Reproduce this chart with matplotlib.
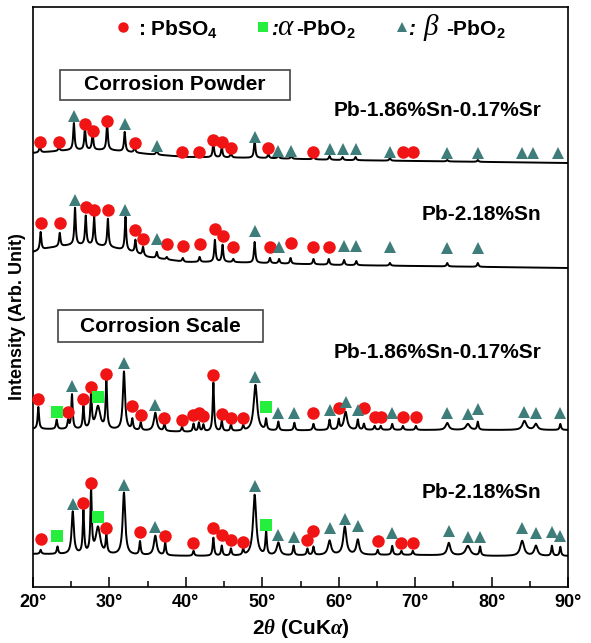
"""XRD patterns of corrosion powder / corrosion scale on Pb-Sn(-Sr) alloys."""

import matplotlib

matplotlib.use("Agg")
import matplotlib.pyplot as plt  # noqa: E402
import numpy as np  # noqa: E402
from matplotlib.lines import Line2D  # noqa: E402
from matplotlib.patches import Rectangle  # noqa: E402

plt.rcParams["font.family"] = ["Liberation Sans", "DejaVu Sans"]
plt.rcParams["font.weight"] = "bold"
plt.rcParams["mathtext.fontset"] = "custom"
plt.rcParams["mathtext.rm"] = "Liberation Sans:bold"
plt.rcParams["mathtext.bf"] = "Liberation Sans:bold"
plt.rcParams["mathtext.it"] = "Liberation Serif:italic"

# Values, stored as "depth below the top" of a 587-unit
# intensity scale (bigger number = lower on the chart); converted below.
TOP = 587

# --- Corrosion powder, Pb-1.86%Sn-0.17%Sr -------------------------------
p1_base_x = [20, 25, 30, 35, 40, 50, 60, 70, 80, 90]
p1_base_d = [153, 150, 150, 154, 157, 158, 160, 161, 162, 163]
p1_pk_pos = [20.9, 23.4, 25.35, 26.8, 27.8, 29.7, 32.0, 33.3, 36.2, 39.5,
             41.7, 43.6, 44.7, 45.9, 49.0, 50.8, 52.1, 53.8, 56.7, 58.8,
             60.5, 62.2, 66.7, 74.2, 78.2]
p1_pk_d = [146, 147, 123, 128, 133, 123, 132, 147, 150, 154,
           154, 143, 147, 153, 140, 154, 155, 156, 156, 156,
           157, 157, 158, 160, 160]
p1_so4_x = [20.9, 23.4, 26.8, 27.8, 29.7, 33.3, 39.5, 41.7, 43.6, 44.7,
            45.9, 50.8, 56.7, 68.4, 69.7]
p1_so4_d = [142, 142, 124, 131, 121, 143, 152, 152, 140, 142,
            148, 148, 152, 152, 152]
p1_beta_x = [25.35, 32.0, 36.2, 49.0, 52.1, 53.8, 58.8, 60.5, 62.2, 66.7,
             74.2, 78.2, 84.0, 85.4, 88.7]
p1_beta_d = [116, 124, 146, 137, 151, 151, 149, 149, 149, 152,
             153, 153, 153, 153, 153]

# --- Corrosion powder, Pb-2.18%Sn ---------------------------------------
p2_base_x = [20, 22, 25, 28, 30, 33, 35, 38, 40, 45, 50, 60, 70, 80, 90]
p2_base_d = [252, 248, 245, 245, 247, 252, 257, 260, 262, 262, 263, 265,
             266, 267, 268]
p2_pk_pos = [21.0, 23.5, 25.5, 26.9, 28.0, 29.8, 32.1, 33.4, 34.4, 36.2,
             37.5, 39.6, 41.8, 43.8, 44.8, 46.2, 49.0, 51.0, 52.2, 53.7,
             56.7, 58.7, 60.7, 62.3, 66.7, 74.2, 78.2]
p2_pk_d = [232, 233, 208, 216, 217, 219, 217, 240, 247, 252,
           257, 258, 257, 240, 245, 259, 242, 258, 259, 258,
           259, 259, 260, 261, 263, 263, 263]
p2_so4_x = [21.0, 23.5, 26.9, 28.0, 29.8, 33.4, 34.4, 37.5, 39.6, 41.8,
            43.8, 44.8, 46.2, 51.0, 53.7, 56.7, 58.7]
p2_so4_d = [223, 223, 207, 210, 210, 230, 239, 244, 246, 244,
            229, 236, 247, 247, 243, 247, 247]
p2_beta_x = [25.5, 32.1, 36.2, 49.0, 52.2, 60.7, 62.3, 66.7, 74.2, 78.2]
p2_beta_d = [200, 210, 239, 231, 247, 246, 246, 247, 248, 248]

# --- Corrosion scale, Pb-1.86%Sn-0.17%Sr --------------------------------
s1_base_x = [20, 30, 35, 40, 50, 60, 70, 80, 90]
s1_base_d = [429, 430, 431, 432, 431, 430, 430, 430, 430]
s1_pk_pos = [20.7, 23.1, 24.6, 25.1, 26.6, 27.6, 28.5, 29.6, 31.9, 33.0,
             34.1, 36.0, 37.2, 39.5, 41.0, 41.7, 42.3, 43.6, 44.7, 45.9,
             47.5, 49.1, 50.5, 52.1, 54.2, 56.7, 58.8, 60.0, 60.9, 62.5,
             63.3, 64.7, 65.5, 67.0, 68.4, 70.1, 74.2, 76.9, 78.2, 84.3,
             85.8, 89.0]
s1_pk_d = [407, 420, 421, 395, 407, 393, 407, 380, 372, 420,
           423, 413, 424, 427, 424, 423, 425, 383, 421, 425,
           426, 385, 420, 422, 423, 424, 420, 420, 412, 420,
           424, 426, 426, 424, 426, 426, 423, 424, 422, 421,
           424, 424]
s1_broad = {28.5: 0.7, 31.9: 0.35, 36.0: 0.45, 49.1: 0.55, 60.9: 0.5,
            74.2: 0.5, 76.9: 0.6, 84.3: 0.6, 85.8: 0.5}
s1_so4_x = [20.7, 24.6, 26.6, 27.6, 29.6, 33.0, 34.1, 37.2, 39.5, 41.0,
            41.7, 42.3, 43.6, 44.7, 45.9, 47.5, 56.7, 60.0, 63.3, 64.7,
            65.5, 68.4, 70.1]
s1_so4_d = [399, 412, 399, 387, 374, 406, 415, 418, 420, 415,
            413, 416, 375, 414, 418, 418, 413, 408, 408, 417,
            417, 417, 417]
s1_alpha_x = [23.1, 28.5, 50.5]
s1_alpha_d = [412, 397, 407]
s1_beta_x = [25.1, 31.9, 36.0, 49.1, 52.1, 54.2, 58.8, 60.9, 62.5, 67.0,
             74.2, 76.9, 78.2, 84.3, 85.8, 89.0]
s1_beta_d = [386, 363, 405, 377, 413, 413, 410, 402, 410, 413,
             413, 414, 409, 412, 413, 413]

# --- Corrosion scale, Pb-2.18%Sn ----------------------------------------
s2_base_x = [20, 30, 40, 50, 60, 70, 80, 90]
s2_base_d = [554, 555, 556, 556, 555, 555, 556, 556]
s2_pk_pos = [21.0, 23.2, 25.2, 26.6, 27.6, 28.5, 29.6, 31.9, 34.0, 36.0,
             37.3, 41.0, 43.6, 44.7, 45.9, 47.5, 49.0, 50.5, 52.1, 54.1,
             55.9, 56.7, 58.8, 60.8, 62.5, 65.1, 67.0, 68.2, 69.7, 74.4,
             76.9, 78.5, 84.0, 85.8, 87.9, 89.0]
s2_pk_d = [550, 547, 512, 512, 492, 528, 537, 493, 542, 536,
           543, 551, 538, 546, 549, 550, 495, 532, 543, 546,
           549, 547, 541, 527, 540, 550, 546, 551, 551, 543,
           546, 547, 541, 546, 546, 547]
s2_broad = {25.2: 0.35, 28.5: 0.7, 31.9: 0.4, 36.0: 0.45, 49.0: 0.5,
            52.1: 0.5, 58.8: 0.5, 60.8: 0.5, 62.5: 0.45, 74.4: 0.5,
            76.9: 0.7, 84.0: 0.6, 85.8: 0.5}
s2_so4_x = [21.0, 26.6, 27.6, 29.6, 34.0, 37.3, 41.0, 43.6, 44.7, 45.9,
            47.5, 55.9, 56.7, 65.1, 68.2, 69.7]
s2_so4_d = [539, 503, 483, 528, 532, 536, 543, 528, 535, 540,
            542, 540, 531, 541, 543, 543]
s2_alpha_x = [23.2, 28.5, 50.5]
s2_alpha_d = [536, 517, 525]
s2_beta_x = [25.2, 31.9, 36.0, 49.0, 52.1, 54.1, 58.8, 60.8, 62.5, 67.0,
             74.4, 76.9, 78.5, 84.0, 85.8, 87.9, 89.0]
s2_beta_d = [504, 485, 527, 486, 535, 537, 528, 519, 526, 533,
             531, 537, 537, 528, 533, 532, 536]

SAMPLE_LABELS = ["Pb-1.86%Sn-0.17%Sr", "Pb-2.18%Sn",
                 "Pb-1.86%Sn-0.17%Sr", "Pb-2.18%Sn"]
SAMPLE_LABEL_D = [110, 215, 353, 493]
BOX_LABELS = ["Corrosion Powder", "Corrosion Scale"]

RED = "#f01414"
GREEN = "#26ee3c"
TEAL = "#3f7d7a"

TWO_THETA = np.linspace(20, 90, 3501)
W, H = 591, 643


def _lift(d):
    return TOP - np.asarray(d, dtype=float)


def _pattern(base_x, base_d, pk_pos, pk_d, broad=None, fwhm=0.22):
    broad = broad or {}
    base = _lift(base_d)
    y = np.interp(TWO_THETA, base_x, base)
    for p, top in zip(pk_pos, _lift(pk_d)):
        h = top - np.interp(p, base_x, base)
        hw = broad.get(p, fwhm) / 2
        y = y + h * hw ** 2 / ((TWO_THETA - p) ** 2 + hw ** 2)
    return y


def _ftext(x, y, s, **kw):
    """Text placed at a pixel position of the figure (y from the top)."""
    fig.text(x / W, 1 - y / H, s, va="baseline", ha="left", **kw)


def _fmarker(x, y, marker, color, ms):
    fig.add_artist(Line2D([x / W], [1 - y / H], transform=fig.transFigure,
                          ls="none", marker=marker, ms=ms, mew=0, color=color))


fig = plt.figure(figsize=(W / 100, H / 100), dpi=100)
ax = fig.add_axes([33 / W, 56 / H, 535 / W, 580 / H])

traces = [
    _pattern(p1_base_x, p1_base_d, p1_pk_pos, p1_pk_d),
    _pattern(p2_base_x, p2_base_d, p2_pk_pos, p2_pk_d),
    _pattern(s1_base_x, s1_base_d, s1_pk_pos, s1_pk_d, s1_broad),
    _pattern(s2_base_x, s2_base_d, s2_pk_pos, s2_pk_d, s2_broad),
]
for y in traces:
    ax.plot(TWO_THETA, y, color="black", lw=1.4, zorder=2)

mk = dict(ls="none", mew=0, zorder=3, clip_on=False)
for x, d in [(p1_so4_x, p1_so4_d), (p2_so4_x, p2_so4_d),
             (s1_so4_x, s1_so4_d), (s2_so4_x, s2_so4_d)]:
    ax.plot(x, _lift(d), marker="o", ms=9, color=RED, **mk)
for x, d in [(s1_alpha_x, s1_alpha_d), (s2_alpha_x, s2_alpha_d)]:
    ax.plot(x, _lift(d), marker="s", ms=9, color=GREEN, **mk)
for x, d in [(p1_beta_x, p1_beta_d), (p2_beta_x, p2_beta_d),
             (s1_beta_x, s1_beta_d), (s2_beta_x, s2_beta_d)]:
    ax.plot(x, _lift(d), marker="^", ms=9, color=TEAL, **mk)

# sample names, right-aligned
for label, d in zip(SAMPLE_LABELS, SAMPLE_LABEL_D):
    ax.text(86.5, TOP - d, label, ha="right", va="center",
            fontsize=15, fontweight="bold")

# framed section titles
px = 535 / 70  # pixels per degree
for label, (x0, x1, d0, d1) in zip(
        BOX_LABELS, [(60, 290, 70, 100), (58, 263, 310, 342)]):
    gx0 = 20 + (x0 - 33) / px
    gx1 = 20 + (x1 - 33) / px
    ax.add_patch(Rectangle((gx0, TOP - d1), gx1 - gx0, d1 - d0,
                           fill=False, ec="#444444", lw=1.2, zorder=4))
    ax.text((gx0 + gx1) / 2, TOP - (d0 + d1) / 2, label, ha="center",
            va="center", fontsize=15, fontweight="bold", zorder=5)

# phase key along the top
greek = dict(family="Liberation Serif", style="italic", fontweight="normal",
             fontsize=21)
_fmarker(123, 27, "o", RED, 7.5)
_ftext(138, 35, ": PbSO$_4$", fontsize=15, fontweight="bold")
_fmarker(263, 27, "s", GREEN, 7)
_ftext(271, 35, ":", fontsize=15, fontweight="bold", style="italic")
_ftext(277, 35, "α", **greek)
_ftext(296, 35, "-PbO$_2$", fontsize=15, fontweight="bold")
_fmarker(402, 27, "^", TEAL, 7.5)
_ftext(408, 35, ":", fontsize=15, fontweight="bold", style="italic")
_ftext(423, 35, "β", **greek)
_ftext(446, 35, "-PbO$_2$", fontsize=15, fontweight="bold")

ax.set_xlim(20, 90)
ax.set_ylim(0, 580)
ax.set_xticks(range(20, 91, 10))
ax.set_xticklabels([f"{v}°" for v in range(20, 91, 10)])
ax.set_xticks(range(25, 90, 10), minor=True)
ax.set_yticks([])
ax.tick_params(axis="x", which="major", direction="in", length=7, width=1.1,
               labelsize=13, pad=5)
ax.tick_params(axis="x", which="minor", direction="in", length=4, width=1.1)
for s in ax.spines.values():
    s.set_linewidth(1.2)

ax.set_xlabel(r"2$\theta$ (CuK$\alpha$)", fontsize=15, fontweight="bold",
              labelpad=4)
ax.set_ylabel("Intensity (Arb. Unit)", fontsize=13, fontweight="bold")
ax.yaxis.set_label_coords(-0.014, 0.467)

fig.savefig("out.png", dpi=100)
